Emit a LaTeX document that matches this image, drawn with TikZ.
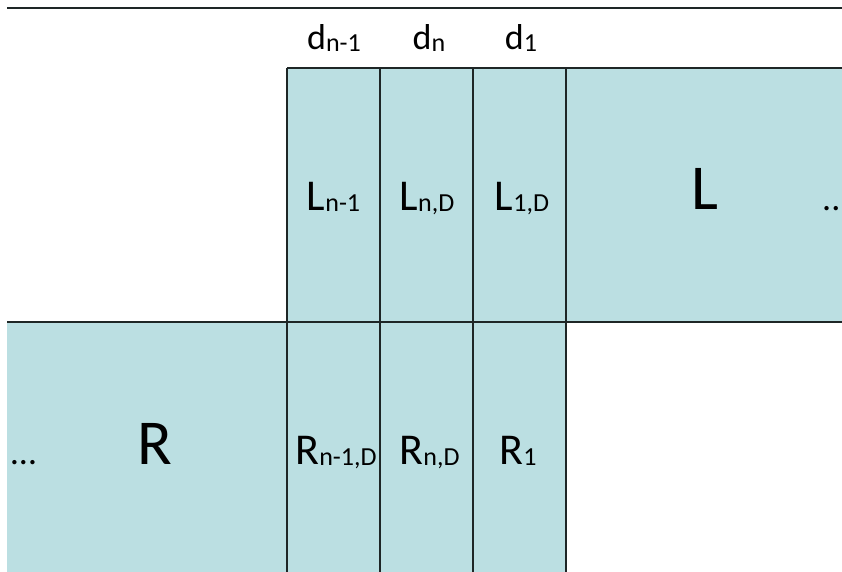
\documentclass[tikz,border=0pt]{standalone}
\usepackage{fontspec}
\setmainfont{Carlito}
\definecolor{cellfill}{HTML}{BBDFE2}
\definecolor{edgecol}{HTML}{1E2626}
\newcommand{\sbs}[1]{\raisebox{-1.5pt}{\fontsize{26}{26}\selectfont #1}}
\begin{document}
\begin{tikzpicture}[x=1pt,y=-1pt,
  cellbox/.style={fill=cellfill, draw=none, inner sep=0pt, outer sep=0pt},
  celltext/.style={anchor=base, inner sep=0pt, font=\fontsize{44}{44}\selectfont},
  bigtext/.style={anchor=base, inner sep=0pt, font=\fontsize{64}{64}\selectfont},
  headtext/.style={anchor=base, inner sep=0pt, font=\fontsize{36}{36}\selectfont},
  dotstext/.style={anchor=base, inner sep=0pt, font=\fontsize{36}{36}\selectfont},
  gridline/.style={draw=edgecol, line width=1.3pt},
  rule/.style={draw=edgecol, line width=1.6pt}]
\useasboundingbox (0,0) rectangle (842,572);
\clip (0,0) rectangle (842,572);
% top rule
\coordinate (ruleL) at (7,8);
\coordinate (ruleR) at (842,8);
\draw[rule] (ruleL) -- (ruleR);
% top row cells
\node[cellbox, minimum width=93pt, minimum height=254pt] (ln1) at (333.5,195) {};
\node[cellbox, minimum width=93pt, minimum height=254pt] (lnd) at (426.5,195) {};
\node[cellbox, minimum width=93pt, minimum height=254pt] (l1d) at (519.5,195) {};
\node[cellbox, minimum width=276pt, minimum height=254pt] (lbig) at (704,195) {};
% bottom row cells
\node[cellbox, minimum width=93pt, minimum height=250pt] (rn1) at (333.5,447) {};
\node[cellbox, minimum width=93pt, minimum height=250pt] (rnd) at (426.5,447) {};
\node[cellbox, minimum width=93pt, minimum height=250pt] (r1) at (519.5,447) {};
\node[cellbox, minimum width=280pt, minimum height=250pt] (rbig) at (147,447) {};
% grid lines
\draw[gridline] (ln1.north west) -- (lbig.north east);
\draw[gridline] (rbig.north west) -- (lbig.south east);
\draw[gridline] (ln1.north west) -- (rn1.south west);
\draw[gridline] (lnd.north west) -- (rnd.south west);
\draw[gridline] (l1d.north west) -- (r1.south west);
\draw[gridline] (lbig.north west) -- (r1.south east);
% column headers
\node[headtext] (dn1) at (334,50) {d\sbs{n-1}};
\node[headtext] (dn) at (429,50) {d\sbs{n}};
\node[headtext] (d1) at (521,50) {d\sbs{1}};
% cell texts
\node[celltext] (tln1) at (333.5,210) {L\sbs{n-1}};
\node[celltext] (tlnd) at (427,210) {L\sbs{n,D}};
\node[celltext] (tl1d) at (522,210) {L\sbs{1,D}};
\node[celltext] (trn1) at (336,464) {R\sbs{n-1,D}};
\node[celltext] (trnd) at (429.5,464) {R\sbs{n,D}};
\node[celltext] (tr1) at (518,464) {R\sbs{1}};
\node[bigtext] (tlbig) at (705,209) {L};
\node[bigtext] (trbig) at (155,464) {R};
% ellipses
\node[dotstext, anchor=base west] (dotsl) at (11,464) {…};
\node[dotstext, anchor=base west] (dotsr) at (822,210) {..};
\end{tikzpicture}
\end{document}
